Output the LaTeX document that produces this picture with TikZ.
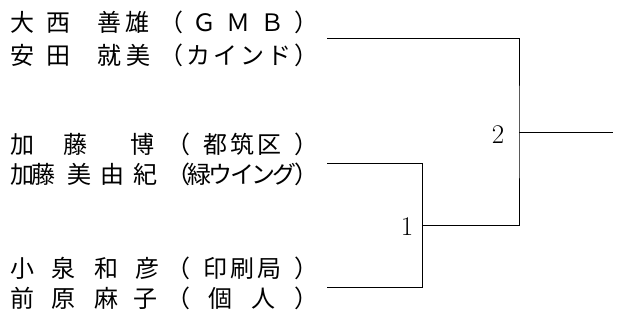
\documentclass[tikz,border=0pt]{standalone}
\usepackage{fontspec}
\newfontfamily\jpfont{Noto Sans CJK JP}
\newcommand{\spread}[2]{\makebox[#1][s]{#2}}
\newcommand{\fl}{\hskip 0pt plus 1fill minus 4pt\relax}

\begin{document}
\begin{tikzpicture}[x=1pt,y=-1pt,
  player/.style={anchor=base west, inner sep=0pt, font=\jpfont\fontsize{24}{24}\selectfont},
  score/.style={anchor=base, inner sep=0pt, font=\fontsize{27}{27}\selectfont},
  bracket/.style={draw,line width=1pt,-}]
\useasboundingbox (0,0) rectangle (618,324);

\node[player] (p1) at (10.5,31) {\spread{60pt}{大\fl 西}\hspace{27pt}\spread{52pt}{善\fl 雄}\hspace{9.5pt}\spread{159pt}{（\fl Ｇ\fl Ｍ\fl Ｂ\fl ）}};
\node[player] (p2) at (10.5,64) {\spread{60pt}{安\fl 田}\hspace{27pt}\spread{53pt}{就\fl 美}\hspace{8.5pt}\spread{159pt}{（\fl カ\fl イ\fl ン\fl ド\fl ）}};
\node[player] (p3) at (10.5,153) {\spread{77pt}{加\fl 藤}\hspace{43pt}博\hspace{11.5pt}\spread{152pt}{（\fl 都\hskip3pt 筑\hskip3pt 区\fl ）}};
\node[player] (p4) at (10.5,183) {加\kern-3pt 藤\hspace{12pt}\spread{90pt}{美\fl 由\fl 紀}\hspace{8.5pt}\spread{152pt}{（\fl 緑\fl ウ\fl イ\fl ン\fl グ\fl ）}};
\node[player] (p5) at (10.5,277) {\spread{64.5pt}{小\fl 泉}\hspace{19.5pt}\spread{65pt}{和\fl 彦}\hspace{6.5pt}\spread{152pt}{（\fl 印\hskip3pt 刷\hskip3pt 局\fl ）}};
\node[player] (p6) at (10.5,307) {\spread{64.5pt}{前\fl 原}\hspace{19.5pt}\spread{63pt}{麻\fl 子}\hspace{8.5pt}\spread{152pt}{（\fl 個\fl 人\fl ）}};

% entry lines
\coordinate (e1) at (327,38.5);
\coordinate (e2) at (327,163.5);
\coordinate (e3) at (327,287.7);

% matches
\coordinate (m1) at (422.5,225.6);
\coordinate (m2) at (519,132);
\coordinate (win) at (613,132);

\node[score] (s1) at (407,235.5) {1};
\node[score] (s2) at (498,143) {2};

\path[bracket] (e2) -| (m1) |- (e3);
\path[bracket] (e1) -| (m2) |- (m1);
\path[bracket] (m2) -- (win);
\end{tikzpicture}
\end{document}
